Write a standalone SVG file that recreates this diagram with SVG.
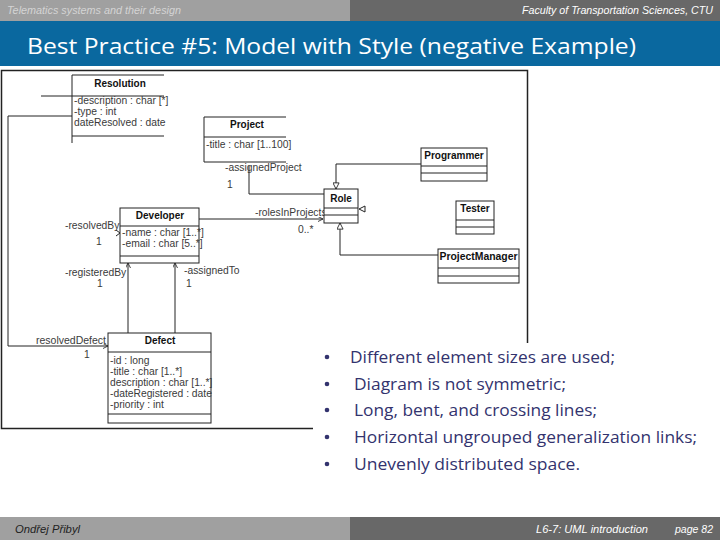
<svg xmlns="http://www.w3.org/2000/svg" width="720" height="540" viewBox="0 0 720 540">
<style>
.hdr{font-family:"Liberation Sans",Arial,sans-serif;font-style:italic;font-size:10px}
.title{font-family:"Open Sans","Liberation Sans",sans-serif;font-size:22px;fill:#ffffff}
.box{fill:#ffffff;stroke:#222;stroke-width:1}
.ln{fill:none;stroke:#222;stroke-width:1}
.cn{font-family:"Liberation Sans",Arial,sans-serif;font-weight:bold;font-size:10px;fill:#111;text-anchor:middle}
.at{font-family:"Liberation Sans",Arial,sans-serif;font-size:10.3px;fill:#3a3a3a}
.bul{font-family:"Open Sans","Liberation Sans",sans-serif;font-size:17px;fill:#33336e}
.ft{font-family:"Liberation Sans",Arial,sans-serif;font-style:italic;font-size:11px}
</style>
<defs>
<marker id="open" viewBox="0 0 6 6" refX="6" refY="3" markerWidth="5" markerHeight="5" markerUnits="userSpaceOnUse" orient="auto">
<path d="M0,0 L6,3 L0,6" fill="none" stroke="#222" stroke-width="1"/>
</marker>
<marker id="gen" viewBox="0 0 8 8" refX="7.5" refY="4" markerWidth="7" markerHeight="7" markerUnits="userSpaceOnUse" orient="auto">
<path d="M0.5,0.5 L7.5,4 L0.5,7.5 Z" fill="#fff" stroke="#222" stroke-width="1"/>
</marker>
</defs>
<rect width="720" height="540" fill="#ffffff"/>
<!-- header -->
<rect x="0" y="0" width="350" height="21" fill="#a0a0a0"/>
<rect x="350" y="0" width="370" height="21" fill="#686868"/>
<text class="hdr" x="7" y="14" fill="#d4d4d4" textLength="174" lengthAdjust="spacingAndGlyphs">Telematics systems and their design</text>
<text class="hdr" x="713" y="14" fill="#ffffff" text-anchor="end" textLength="191" lengthAdjust="spacingAndGlyphs">Faculty of Transportation Sciences, CTU</text>
<rect x="0" y="21" width="720" height="45" fill="#0a689f"/>
<text class="title" x="27" y="54" textLength="609" lengthAdjust="spacingAndGlyphs">Best Practice #5: Model with Style (negative Example)</text>

<!-- diagram frame -->
<rect x="1.5" y="70.5" width="526" height="358" fill="#fff" stroke="#222" stroke-width="1.5"/>

<g id="connectors">
<polyline class="ln" points="41,96 72,96"/>
<polyline class="ln" points="72,116 8,116 8,346 108,346" marker-end="url(#open)"/>
<polyline class="ln" points="249,166 249,194 324,194"/>
<polyline class="ln" points="421,164 336,164 336,189" marker-end="url(#gen)"/>
<polyline class="ln" points="438,255 340,255 340,223" marker-end="url(#gen)"/>
<polyline class="ln" points="199,219 323,219" marker-end="url(#open)"/>
<polyline class="ln" points="128,333 128,263" marker-end="url(#open)"/>
<polyline class="ln" points="175,333 175,263" marker-end="url(#open)"/>
<polyline class="ln" points="116,230 120,233 116,236"/>
<polygon points="359,209 365,206 365,212" fill="#fff" stroke="#222" stroke-width="1"/>
<text class="at" x="225" y="171">-assignedProject</text>
<text class="at" x="227" y="188">1</text>
<text class="at" x="255" y="216">-rolesInProjects</text>
<text class="at" x="298" y="233">0..*</text>
<text class="at" x="65" y="229">-resolvedBy</text>
<text class="at" x="96" y="245">1</text>
<text class="at" x="65" y="276">-registeredBy</text>
<text class="at" x="97" y="287">1</text>
<text class="at" x="184" y="274">-assignedTo</text>
<text class="at" x="186" y="287">1</text>
<text class="at" x="36" y="344" textLength="70" lengthAdjust="spacingAndGlyphs">resolvedDefect</text>
<text class="at" x="84" y="358">1</text>
</g>

<g id="resolution">
<path class="ln" d="M72,75 H164 M72,96 H164 M72,136 H164 M72,75 V143"/>
<text class="cn" x="120" y="87">Resolution</text>
<text class="at" x="74" y="104">-description : char [*]</text>
<text class="at" x="74" y="115">-type : int</text>
<text class="at" x="74" y="126"> dateResolved : date</text>
</g>

<g id="project">
<path class="ln" d="M204,117 H286 M204,137 H286 M204,162 H286 M204,117 V162"/>
<text class="cn" x="247" y="128">Project</text>
<text class="at" x="206" y="148">-title : char [1..100]</text>
</g>

<g id="role">
<rect class="box" x="324" y="189" width="34" height="34"/>
<path class="ln" d="M324,208 H358 M324,215 H358"/>
<text class="cn" x="341" y="202">Role</text>
</g>

<g id="programmer">
<rect class="box" x="421" y="148" width="66" height="33"/>
<path class="ln" d="M421,166 H487 M421,173 H487"/>
<text class="cn" x="454" y="159">Programmer</text>
</g>

<g id="tester">
<rect class="box" x="456" y="201" width="38" height="33"/>
<path class="ln" d="M456,220 H494 M456,227 H494"/>
<text class="cn" x="475" y="212">Tester</text>
</g>

<g id="projectmanager">
<rect class="box" x="438" y="249" width="81" height="34"/>
<path class="ln" d="M438,268 H519 M438,276 H519"/>
<text class="cn" x="478.5" y="260" textLength="78" lengthAdjust="spacingAndGlyphs">ProjectManager</text>
</g>

<g id="developer">
<rect class="box" x="120" y="208" width="79" height="55"/>
<path class="ln" d="M120,226 H199 M120,256 H199"/>
<text class="cn" x="160" y="219">Developer</text>
<text class="at" x="122" y="236">-name : char [1..*]</text>
<text class="at" x="122" y="247">-email : char [5..*]</text>
</g>

<g id="defect">
<rect class="box" x="108" y="333" width="103" height="90"/>
<path class="ln" d="M108,352 H211 M108,414 H211"/>
<text class="cn" x="160" y="344">Defect</text>
<text class="at" x="110" y="364">-id : long</text>
<text class="at" x="110" y="375">-title : char [1..*]</text>
<text class="at" x="110" y="386"> description : char [1..*]</text>
<text class="at" x="110" y="397">-dateRegistered : date</text>
<text class="at" x="110" y="408">-priority : int</text>
</g>

<!-- bullet text box -->
<g id="bullets">
<rect x="313" y="343" width="407" height="150" fill="#ffffff"/>
<g fill="#33336e">
<circle cx="327" cy="357" r="2.3"/>
<circle cx="327" cy="384" r="2.3"/>
<circle cx="327" cy="410" r="2.3"/>
<circle cx="327" cy="437" r="2.3"/>
<circle cx="327" cy="464" r="2.3"/>
</g>
<text class="bul" x="350" y="363" textLength="265" lengthAdjust="spacingAndGlyphs">Different element sizes are used;</text>
<text class="bul" x="354" y="390" textLength="212" lengthAdjust="spacingAndGlyphs">Diagram is not symmetric;</text>
<text class="bul" x="354" y="416" textLength="243" lengthAdjust="spacingAndGlyphs">Long, bent, and crossing lines;</text>
<text class="bul" x="354" y="443" textLength="343" lengthAdjust="spacingAndGlyphs">Horizontal ungrouped generalization links;</text>
<text class="bul" x="354" y="470" textLength="226" lengthAdjust="spacingAndGlyphs">Unevenly distributed space.</text>
</g>

<!-- footer -->
<rect x="0" y="517" width="350" height="23" fill="#a0a0a0"/>
<rect x="350" y="517" width="370" height="23" fill="#686868"/>
<text class="ft" x="15" y="533" fill="#222" textLength="65" lengthAdjust="spacingAndGlyphs">Ondřej Přibyl</text>
<text class="ft" x="536" y="533" fill="#ffffff" textLength="112" lengthAdjust="spacingAndGlyphs">L6-7: UML introduction</text>
<text class="ft" x="675" y="533" fill="#ffffff" font-style="normal" textLength="38" lengthAdjust="spacingAndGlyphs">page 82</text>
</svg>
